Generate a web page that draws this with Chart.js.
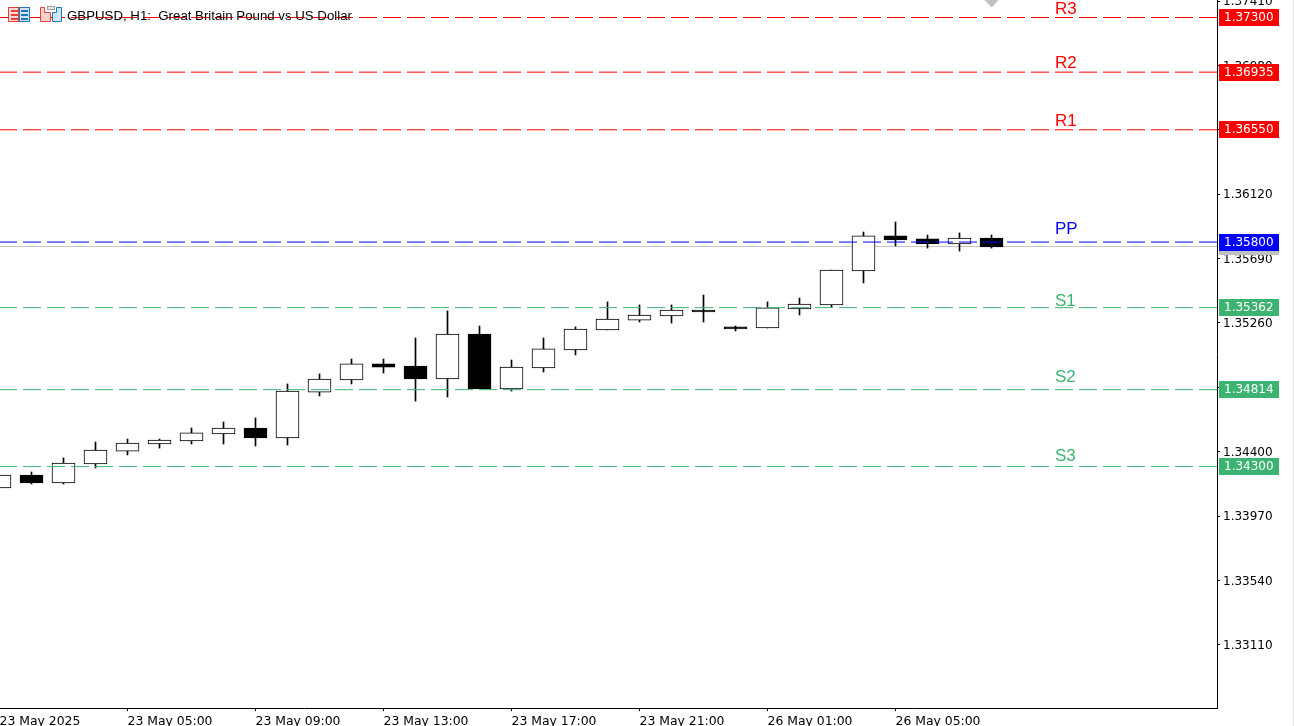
<!DOCTYPE html>
<html>
<head>
<meta charset="utf-8">
<title>GBPUSD H1</title>
<style>html,body{margin:0;padding:0;background:#fff;overflow:hidden}canvas{display:block}</style>
<script src="https://cdn.jsdelivr.net/npm/chart.js@4"></script>
</head>
<body>
<canvas id="c" width="1294" height="726"></canvas>
<script>
const titleText = "GBPUSD, H1:  Great Britain Pound vs US Dollar";
const opens  = [1.34157,1.34244,1.34191,1.34318,1.34404,1.34451,1.34471,1.34518,1.34558,1.34491,1.34798,1.34879,1.34986,1.34972,1.34885,1.35186,1.34819,1.34959,1.35079,1.35213,1.35279,1.35306,1.35346,1.35233,1.35226,1.35353,1.35380,1.35607,1.35841,1.35821,1.35787,1.35827];
const highs  = [1.34244,1.34264,1.34358,1.34464,1.34484,1.34484,1.34558,1.34598,1.34625,1.34852,1.34919,1.35019,1.35019,1.35159,1.35340,1.35239,1.35012,1.35159,1.35233,1.35400,1.35380,1.35380,1.35446,1.35239,1.35400,1.35426,1.35613,1.35867,1.35934,1.35847,1.35861,1.35847];
const lows   = [1.34157,1.34184,1.34184,1.34291,1.34378,1.34424,1.34451,1.34451,1.34438,1.34444,1.34772,1.34852,1.34925,1.34738,1.34765,1.34819,1.34805,1.34932,1.35046,1.35213,1.35266,1.35259,1.35266,1.35206,1.35226,1.35313,1.35366,1.35527,1.35774,1.35760,1.35740,1.35760];
const closes = [1.34244,1.34191,1.34324,1.34411,1.34458,1.34478,1.34525,1.34558,1.34491,1.34805,1.34885,1.34986,1.34965,1.34885,1.35186,1.34819,1.34965,1.35086,1.35219,1.35286,1.35313,1.35346,1.35333,1.35219,1.35360,1.35386,1.35613,1.35841,1.35814,1.35787,1.35827,1.35767];
const timeTickIndex = [0,4,8,12,16,20,24,28];
const timeTickLabels = ["23 May 2025","23 May 05:00","23 May 09:00","23 May 13:00","23 May 17:00","23 May 21:00","26 May 01:00","26 May 05:00"];
const priceTicks = [1.37410,1.36980,1.36550,1.36120,1.35690,1.35260,1.34830,1.34400,1.33970,1.33540,1.33110];
const levelNames = ["R3","R2","R1","PP","S1","S2","S3"];
const levelValues = [1.37300,1.36935,1.36550,1.35800,1.35362,1.34814,1.34300];
const levelTextValues = [1.37323,1.36963,1.36576,1.35854,1.35373,1.34866,1.34338];
const levelColors = ["#ff0000","#ff0000","#ff0000","#0000ff","#3cb371","#3cb371","#3cb371"];
const currentPrice = 1.35770;
const markerIndex = 31;
const markerPrice = 1.37394;

const yMax = 1.37417, yMin = 1.3268756;
const xMin = 0.015625, xMax = 38.046875;
const idx = opens.map((_, i) => i);
const isUp = idx.map(i => closes[i] >= opens[i]);

// wide, flat grey marker used as the point image
const markerImage = document.createElement('canvas');
markerImage.width = 15; markerImage.height = 8;
{
  const m = markerImage.getContext('2d');
  m.fillStyle = '#c0c0c0';
  m.beginPath(); m.moveTo(0, 0); m.lineTo(15, 0); m.lineTo(7.5, 8); m.closePath(); m.fill();
}

const levelDatasets = levelNames.map((n, i) => ({
  type: 'line', label: n, order: 1,
  data: [{x: xMin, y: levelValues[i]}, {x: xMax, y: levelValues[i]}],
  borderColor: levelColors[i], borderWidth: 1, borderDash: [18, 6], borderDashOffset: 1,
  pointRadius: 0, tension: 0
}));

const overlay = {
  id: 'overlay',
  beforeDraw(chart) {
    if (chart.$labelsNudged) return;
    chart.$labelsNudged = true;
    chart.scales.y.getLabelItems(chart.chartArea).forEach(it => { it.options.translation[1] += 1; });
  },
  afterDatasetsDraw(chart) {
    const g = chart.ctx, ys = chart.scales.y;
    g.save();
    // symbol title and its two toolbar icons
    g.textBaseline = 'alphabetic'; g.textAlign = 'left';
    g.fillStyle = '#000';
    g.font = '13.25px "Liberation Sans"';
    g.fillText(titleText, 67, 20);
    g.fillStyle = '#ffd9d2'; g.fillRect(8, 7, 11, 15);
    g.fillStyle = '#cfe6f7'; g.fillRect(19, 7, 10, 15);
    g.strokeStyle = '#e8413a'; g.strokeRect(8.5, 7.5, 10, 14);
    g.strokeStyle = '#1f76b8'; g.strokeRect(19.5, 7.5, 10, 14);
    g.fillStyle = '#e8413a'; [10, 14, 18].forEach(y => g.fillRect(11, y, 7, 2));
    g.fillStyle = '#1f76b8'; [10, 14, 18].forEach(y => g.fillRect(21, y, 7, 2));
    g.fillStyle = '#ffd0c8'; g.strokeStyle = '#e8413a';
    g.beginPath(); g.moveTo(40.5, 7.5); g.lineTo(44.5, 7.5); g.lineTo(44.5, 12.5); g.lineTo(50.5, 12.5); g.lineTo(50.5, 21.5); g.lineTo(40.5, 21.5); g.closePath(); g.fill(); g.stroke();
    g.fillStyle = '#cfe6f7'; g.strokeStyle = '#1f76b8';
    g.beginPath(); g.moveTo(52.5, 21.5); g.lineTo(52.5, 12.5); g.lineTo(56.5, 12.5); g.lineTo(56.5, 7.5); g.lineTo(61.5, 7.5); g.lineTo(61.5, 21.5); g.closePath(); g.fill(); g.stroke();
    g.strokeStyle = '#a0a0a0'; g.fillStyle = '#e8e8e8'; g.fillRect(47.5, 6.5, 7, 3); g.strokeRect(47.5, 6.5, 7, 3);

    // level names inside the plot
    g.font = '17px "Liberation Sans"';
    levelNames.forEach((n, i) => {
      g.fillStyle = levelColors[i];
      g.fillText(n, 1055, ys.getPixelForValue(levelTextValues[i]));
    });

    // price boxes on the axis
    g.font = '12px "DejaVu Sans"';
    g.textBaseline = 'middle';
    const box = (v, col) => {
      const y = Math.round(ys.getPixelForValue(v) - 8.5);
      g.fillStyle = col; g.fillRect(1219, y, 60, 17);
      g.fillStyle = '#fff'; g.fillText(v.toFixed(5), 1224, y + 9);
    };
    box(currentPrice, '#c0c0c0');
    levelValues.forEach((v, i) => box(v, levelColors[i]));
    g.fillStyle = '#e4e4e4'; g.fillRect(1293, 0, 1, 726);
    g.restore();
  }
};

new Chart(document.getElementById('c'), {
  type: 'bar',
  plugins: [overlay],
  data: {
    datasets: [
      { type: 'line', label: 'Marker', order: 0, showLine: false,
        data: [{x: markerIndex, y: markerPrice}],
        pointStyle: markerImage, pointRadius: 8, clip: false },
      ...levelDatasets,
      { type: 'line', label: 'Price', order: 5,
        data: [{x: xMin, y: currentPrice}, {x: xMax, y: currentPrice}],
        borderColor: '#c0c0c0', borderWidth: 1, pointRadius: 0, tension: 0 },
      { label: 'Body', order: 3, grouped: false, barThickness: 23, borderSkipped: false, borderWidth: 1,
        data: idx.map(i => ({x: i, y: [opens[i], closes[i]]})),
        backgroundColor: idx.map(i => isUp[i] ? '#ffffff' : '#000000'),
        borderColor: '#000000' },
      { label: 'Wick', order: 4, grouped: false, barThickness: 1, borderWidth: 0,
        data: idx.map(i => ({x: i, y: [lows[i], highs[i]]})),
        backgroundColor: '#000000' }
    ]
  },
  options: {
    responsive: false, animation: false,
    layout: { padding: 0, autoPadding: false },
    plugins: { legend: { display: false }, tooltip: { enabled: false }, title: { display: false } },
    scales: {
      x: {
        type: 'linear', min: xMin, max: xMax, offset: false,
        afterFit(s) { s.height = 18; s.paddingLeft = 0; s.paddingRight = 0; },
        afterBuildTicks(s) { s.ticks = timeTickIndex.map(v => ({value: v})); },
        border: { color: '#000', width: 1 },
        grid: { offset: false, drawOnChartArea: false, tickLength: 3, tickColor: '#000', tickWidth: 1 },
        ticks: {
          autoSkip: false, maxRotation: 0, minRotation: 0, align: 'start', padding: 3,
          color: '#000', font: { family: '"DejaVu Sans"', size: 12.4 },
          callback(v) { return timeTickLabels[timeTickIndex.indexOf(v)]; }
        }
      },
      y: {
        type: 'linear', position: 'right', min: yMin, max: yMax,
        afterFit(s) { s.width = 77; s.paddingTop = 0; s.paddingBottom = 0; },
        afterBuildTicks(s) { s.ticks = priceTicks.map(v => ({value: v})); },
        border: { color: '#000', width: 1 },
        grid: { offset: false, drawOnChartArea: false, tickLength: 3, tickColor: '#000', tickWidth: 1 },
        ticks: {
          autoSkip: false, padding: 3, crossAlign: 'near',
          color: '#000', font: { family: '"DejaVu Sans"', size: 12 },
          callback(v) { return v.toFixed(5); }
        }
      }
    }
  }
});
</script>
</body>
</html>
